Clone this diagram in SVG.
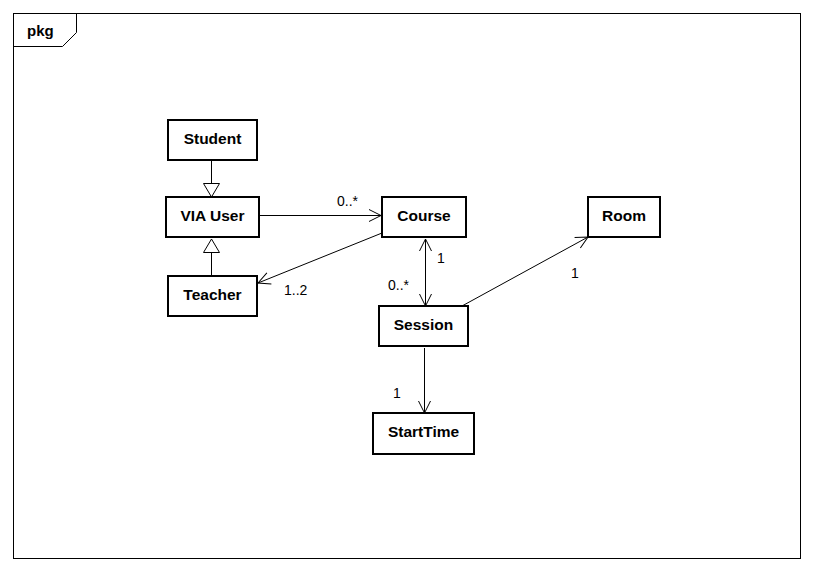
<svg xmlns="http://www.w3.org/2000/svg" width="813" height="572" viewBox="0 0 813 572">
<style>
.node rect{fill:#fff;stroke:#000;stroke-width:2}
.node text{font-family:"Liberation Sans",Arial,sans-serif;font-weight:bold;font-size:15.5px;text-anchor:middle;fill:#000}
.conn line,.conn path{stroke:#000;stroke-width:1;fill:none}
.gen{fill:#fff;stroke:#000;stroke-width:1}
.mult{font-family:"Liberation Sans",Arial,sans-serif;font-size:14px;fill:#000}
</style>
<defs>
<marker id="open" markerWidth="16" markerHeight="16" refX="13" refY="7" orient="auto" markerUnits="userSpaceOnUse">
<path d="M1,1 L13,7 L1,13" fill="none" stroke="#000" stroke-width="1"/>
</marker>
<marker id="openStart" markerWidth="16" markerHeight="16" refX="13" refY="7" orient="auto-start-reverse" markerUnits="userSpaceOnUse">
<path d="M1,1 L13,7 L1,13" fill="none" stroke="#000" stroke-width="1"/>
</marker>
</defs>
<rect x="0" y="0" width="813" height="572" fill="#fff"/>
<g id="frame">
<rect x="13.5" y="13.5" width="787" height="545" fill="none" stroke="#000" stroke-width="1"/>
<path d="M13.5,46.5 H62.5 L76.5,32.5 V13.5" fill="none" stroke="#000" stroke-width="1"/>
<text x="27" y="36" font-family="'Liberation Sans',Arial,sans-serif" font-weight="bold" font-size="15">pkg</text>
</g>
<g id="connectors" class="conn">
<line x1="211.5" y1="161" x2="211.5" y2="183"/>
<path class="gen" d="M203.5,183.5 L219.5,183.5 L211.5,197 Z"/>
<line x1="211.5" y1="276" x2="211.5" y2="253"/>
<path class="gen" d="M203.5,252.5 L219.5,252.5 L211.5,239 Z"/>
<line x1="260" y1="215.5" x2="381" y2="215.5" marker-end="url(#open)"/>
<line x1="382" y1="233" x2="258" y2="283" marker-end="url(#open)"/>
<line x1="425.5" y1="239" x2="425.5" y2="306" marker-start="url(#openStart)" marker-end="url(#open)"/>
<line x1="462" y1="306" x2="588" y2="237" marker-end="url(#open)"/>
<line x1="424.5" y1="348" x2="424.5" y2="413" marker-end="url(#open)"/>
<text class="mult" x="337" y="206">0..*</text>
<text class="mult" x="284" y="295">1..2</text>
<text class="mult" x="437" y="263">1</text>
<text class="mult" x="388" y="290">0..*</text>
<text class="mult" x="571" y="278">1</text>
<text class="mult" x="393" y="398">1</text>
</g>
<g id="student" class="node"><rect x="168" y="120" width="89" height="40"/><text x="212.5" y="144">Student</text></g>
<g id="viauser" class="node"><rect x="166" y="197" width="93" height="40"/><text x="212.5" y="221">VIA User</text></g>
<g id="teacher" class="node"><rect x="168" y="276" width="89" height="40"/><text x="212.5" y="300">Teacher</text></g>
<g id="course" class="node"><rect x="382" y="197" width="84" height="40"/><text x="424" y="221">Course</text></g>
<g id="room" class="node"><rect x="588" y="197" width="72" height="40"/><text x="624" y="221">Room</text></g>
<g id="session" class="node"><rect x="379" y="306" width="89" height="40"/><text x="423.5" y="330">Session</text></g>
<g id="starttime" class="node"><rect x="373" y="413" width="101" height="41"/><text x="423.5" y="437">StartTime</text></g>
</svg>
